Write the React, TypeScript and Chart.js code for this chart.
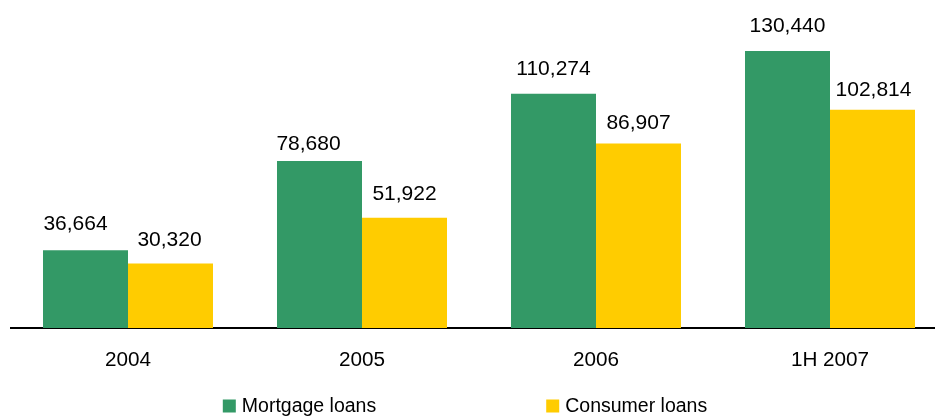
import React, { useEffect, useRef } from "react";
import { Chart, registerables } from "chart.js";

Chart.register(...registerables);

const categories = ["2004", "2005", "2006", "1H 2007"];
const mortgageLoans = [36664, 78680, 110274, 130440];
const consumerLoans = [30320, 51922, 86907, 102814];
const seriesNames = ["Mortgage loans", "Consumer loans"];
const seriesColors = ["#339966", "#FFCC00"];

const FONT = '"Liberation Sans", Arial, sans-serif';

// label placement tweaks (gap above bar top, horizontal shift) per series/category
const labelGaps = [
  [20, 11, 19, 19],
  [18, 18, 14, 14],
];
const labelShifts = [
  [-10, -11, 0, 0],
  [-1, 0, 0, 1],
];

const valueLabels = {
  id: "valueLabels",
  afterDatasetsDraw(chart: any) {
    const ctx = chart.ctx;
    ctx.save();
    ctx.font = `21px ${FONT}`;
    ctx.fillStyle = "#000";
    ctx.textAlign = "center";
    ctx.textBaseline = "alphabetic";
    chart.data.datasets.forEach((ds: any, i: number) => {
      const meta = chart.getDatasetMeta(i);
      meta.data.forEach((el: any, j: number) => {
        const v = ds.data[j] as number;
        ctx.fillText(
          v.toLocaleString("en-US"),
          el.x + labelShifts[i][j],
          el.y - labelGaps[i][j]
        );
      });
    });
    ctx.restore();
  },
};

const customLegend = {
  id: "customLegend",
  afterDraw(chart: any, _args: any, opts: any) {
    const ctx = chart.ctx;
    ctx.save();
    ctx.font = `19.5px ${FONT}`;
    ctx.textBaseline = "middle";
    ctx.textAlign = "left";
    const box = 13;
    const gap = 6;
    const itemGap = 170;
    const items = chart.data.datasets.map((ds: any) => ({
      label: ds.label,
      color: ds.backgroundColor,
      w: box + gap + ctx.measureText(ds.label).width,
    }));
    const total =
      items.reduce((s: number, it: any) => s + it.w, 0) + itemGap * (items.length - 1);
    let x = opts.centerX - total / 2;
    const y = opts.y;
    items.forEach((it: any) => {
      ctx.fillStyle = it.color;
      ctx.fillRect(x, y - box / 2, box, box);
      ctx.fillStyle = "#000";
      ctx.fillText(it.label, x + box + gap, y + 0.5);
      x += it.w + itemGap;
    });
    ctx.restore();
  },
};

export default function App() {
  const ref = useRef<HTMLCanvasElement | null>(null);

  useEffect(() => {
    if (!ref.current) return;
    const chart = new Chart(ref.current, {
      type: "bar",
      data: {
        labels: categories,
        datasets: [
          {
            label: seriesNames[0],
            data: mortgageLoans,
            backgroundColor: seriesColors[0],
            borderWidth: 0,
            categoryPercentage: 0.7265,
            barPercentage: 1,
          },
          {
            label: seriesNames[1],
            data: consumerLoans,
            backgroundColor: seriesColors[1],
            borderWidth: 0,
            categoryPercentage: 0.7265,
            barPercentage: 1,
          },
        ],
      },
      options: {
        responsive: false,
        animation: false,
        layout: { padding: { left: 11, right: 1, top: 9.5, bottom: 0 } },
        plugins: {
          legend: { display: false },
          tooltip: { enabled: false },
          customLegend: { centerX: 465, y: 406 },
        } as any,
        scales: {
          x: {
            grid: { display: false, drawTicks: false },
            border: { display: true, color: "#000", width: 2 },
            ticks: { color: "#000", font: { family: FONT, size: 20.7 }, padding: 20 },
            afterFit(scale: any) {
              scale.height = 91;
            },
          },
          y: { display: false, min: 0, max: 150000 },
        },
      },
      plugins: [valueLabels, customLegend],
    });
    return () => chart.destroy();
  }, []);

  return (
    <div
      style={{
        position: "fixed",
        left: 0,
        top: 0,
        width: 935,
        height: 419,
        overflow: "hidden",
        background: "#fff",
      }}
    >
      <canvas ref={ref} width={948} height={419} style={{ display: "block" }} />
    </div>
  );
}
